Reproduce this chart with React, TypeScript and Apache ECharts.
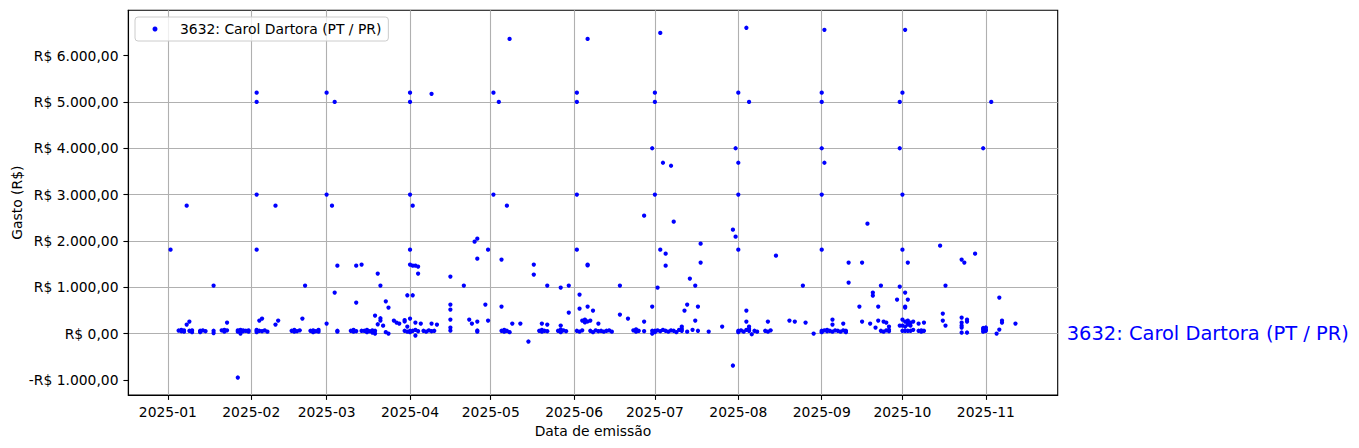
import { useEffect, useRef } from "react";
import * as echarts from "echarts";

const SERIES_NAME = "3632: Carol Dartora (PT / PR)";
const Y_TITLE = "Gasto (R$)";
const X_TITLE = "Data de emissão";
const YEAR = 2025;
const Y_TICKS = [-1000, 0, 1000, 2000, 3000, 4000, 5000, 6000];

// [day of month, value in R$]
const jan: [number, number][] = [
  [2, 1811], [8, 2760], [18, 1035], [27, -949],
  [5, 65], [6, 50], [6, 80], [7, 40], [7, 70], [8, 194], [9, 259], [9, 60],
  [10, 70], [10, 30], [13, 60], [13, 30], [14, 70], [15, 50], [18, 60], [18, 10],
  [21, 70], [22, 40], [22, 80], [23, 237], [23, 70], [27, 70], [27, 40],
  [28, 0], [28, 60], [28, 80], [29, 50], [29, 70], [30, 60], [31, 40], [31, 70],
];
const feb: [number, number][] = [
  [3, 5200], [3, 5000], [3, 3000], [3, 1811], [3, 60], [3, 30], [3, 80],
  [4, 280], [5, 323], [4, 60], [5, 50], [6, 70], [7, 40],
  [10, 2760], [10, 194], [11, 280],
  [16, 60], [17, 40], [17, 80], [18, 50], [19, 70], [20, 323], [21, 1035],
  [23, 60], [24, 30], [24, 70], [25, 50], [26, 80], [26, 40],
];
const mar: [number, number][] = [
  [1, 5200], [1, 3000], [1, 215], [3, 2760], [4, 5000], [4, 884],
  [5, 1466], [5, 60], [5, 40], [10, 60], [11, 40], [11, 80], [12, 50],
  [12, 1466], [12, 668], [14, 1488], [14, 60],
  [15, 60], [16, 30], [16, 80], [17, 50], [18, 70], [18, 20], [19, 60], [19, 0],
  [19, 388], [20, 1294], [21, 1035], [20, 200], [21, 330], [21, 280], [22, 170],
  [23, 696], [24, 560], [23, 30], [24, 0], [26, 280], [27, 237], [28, 215],
  [30, 290], [30, 260], [31, 826], [31, 150], [30, 60], [31, 40],
];
const apr: [number, number][] = [
  [1, 5200], [1, 5000], [1, 3000], [1, 1811], [1, 1488], [1, 323], [1, 60], [1, 30],
  [2, 2760], [2, 826], [2, 1466], [3, 1466], [4, 1445], [4, 1294],
  [3, 237], [3, -43], [2, 60], [3, 80], [4, 50], [5, 215],
  [6, 60], [7, 40], [8, 70], [9, 50], [10, 60], [9, 5175], [9, 215], [11, 194],
  [16, 1229], [16, 625], [16, 517], [16, 302], [16, 129], [16, 65],
  [21, 1035], [23, 302], [24, 215], [25, 1984], [26, 2048], [26, 1617],
  [26, 259], [26, 65], [26, 40], [29, 625], [30, 280], [30, 1811],
];
const may: [number, number][] = [
  [2, 5200], [2, 3000], [4, 5000], [5, 582], [5, 1596],
  [5, 60], [6, 40], [6, 80], [7, 60], [8, 30], [8, 6360], [7, 2760],
  [9, 215], [12, 215], [15, -172], [17, 1488], [17, 1272],
  [19, 60], [20, 40], [20, 80], [21, 60], [22, 50], [20, 215], [22, 194], [22, 1035],
  [27, 992], [27, 172], [27, 86], [26, 60], [27, 30], [28, 70], [29, 50],
  [30, 1035], [30, 453],
];
const jun: [number, number][] = [
  [2, 5200], [2, 5000], [2, 3000], [2, 1811], [3, 841], [3, 539],
  [6, 6360], [6, 582], [6, 1488], [6, 1470], [8, 496],
  [4, 280], [5, 300], [5, 240], [6, 260], [7, 280], [10, 215],
  [2, 60], [3, 40], [4, 70], [7, 60], [8, 30], [9, 70], [10, 50], [11, 60], [12, 40],
  [13, 60], [14, 70], [15, 40], [18, 1035], [18, 410], [21, 323],
  [23, 70], [24, 90], [24, 40], [25, 60], [27, 259], [27, 2544], [27, 50],
  [30, 582], [30, 4000], [30, 0], [30, 60],
];
const jul: [number, number][] = [
  [1, 5200], [1, 5000], [1, 3000], [2, 992], [3, 6490], [3, 1811], [4, 3687],
  [5, 1725], [5, 1466], [7, 3622], [8, 2415],
  [1, 60], [1, 30], [2, 70], [3, 50], [4, 80], [5, 60], [6, 40], [7, 70], [8, 60],
  [9, 30], [10, 80], [11, 60], [11, 100], [11, 151], [12, 496], [13, 625], [14, 1186],
  [13, 40], [15, 80], [16, 1035], [16, 280], [17, 582], [17, 60], [18, 1940], [18, 1531],
  [21, 43], [26, 151], [30, 2242], [31, 2091], [30, -690], [31, 4000],
];
const aug: [number, number][] = [
  [1, 5200], [1, 3000], [1, 3687], [1, 1811], [4, 6600], [4, 496], [4, 259], [5, 5000],
  [1, 60], [1, 30], [2, 70], [3, 40], [4, 80], [5, 60], [5, 100], [5, 151], [6, -15],
  [7, 60], [8, 40], [12, 259], [11, 60], [12, 40], [13, 70], [15, 1682],
  [20, 280], [22, 259], [25, 1035], [26, 237], [29, 0],
];
const sep: [number, number][] = [
  [1, 5200], [1, 5000], [1, 4000], [1, 3000], [1, 1811], [2, 6555], [2, 3687],
  [1, 60], [1, 30], [2, 70], [3, 50], [3, 80], [4, 60], [5, 40], [6, 70], [7, 60],
  [8, 40], [9, 70], [10, 60], [10, 30], [5, 302], [5, 194], [9, 215],
  [11, 1531], [11, 1100], [15, 582], [16, 1531], [16, 259], [18, 2372], [19, 215],
  [20, 884], [20, 819], [21, 129], [22, 582], [22, 280], [23, 1035], [24, 259],
  [25, 237], [26, 151], [23, 60], [24, 40], [25, 70], [26, 50], [26, 80],
  [29, 733], [30, 5000], [30, 4000], [30, 1013], [30, 172],
];
const oct: [number, number][] = [
  [1, 5200], [1, 3000], [1, 1811], [2, 6555], [2, 884], [2, 582], [2, 560],
  [3, 1531], [3, 733], [1, 302], [1, 172], [1, 60], [2, 259], [2, 150], [2, 60],
  [3, 280], [3, 215], [3, 194], [3, 60], [4, 237], [4, 172], [4, 60], [5, 259], [5, 80],
  [7, 215], [9, 237], [7, 60], [8, 40], [8, 70], [9, 60],
  [15, 1897], [16, 280], [16, 431], [17, 172], [17, 1035],
  [23, 1596], [23, 345], [23, 237], [23, 172], [23, 129], [23, 22], [24, 1531],
  [25, 302], [25, 259], [25, 22], [28, 1725], [31, 4000], [31, 86], [31, 40], [31, 120],
];
const nov: [number, number][] = [
  [1, 86], [1, 60], [1, 130], [3, 5000], [5, 0], [6, 776], [6, 86], [7, 280], [7, 237],
  [12, 215],
];

const MONTHS = [jan, feb, mar, apr, may, jun, jul, aug, sep, oct, nov];

const FONT = "DejaVu Sans";
const FS = 13.89;

function brl(v: number): string {
  const parts = Math.abs(v).toFixed(2).split(".");
  const intPart = parts[0].replace(/\B(?=(\d{3})+(?!\d))/g, ".");
  return (v < 0 ? "-" : "") + "R$ " + intPart + "," + parts[1];
}

export default function App() {
  const ref = useRef<HTMLDivElement>(null);
  useEffect(() => {
    if (!ref.current) return;
    const chart = echarts.init(ref.current, undefined, { renderer: "svg" });
    const data: [number, number][] = [];
    MONTHS.forEach((arr, m) => {
      arr.forEach(([d, v]) => data.push([Date.UTC(YEAR, m, d), v]));
    });
    const xs = data.map((p) => p[0]);
    const ys = data.map((p) => p[1]);
    const xMinD = Math.min(...xs), xMaxD = Math.max(...xs);
    const yMinD = Math.min(...ys), yMaxD = Math.max(...ys);
    const xPad = (xMaxD - xMinD) * 0.05;
    const yPad = (yMaxD - yMinD) * 0.05;
    const xMin = xMinD - xPad, xMax = xMaxD + xPad;
    const yMin = yMinD - yPad, yMax = yMaxD + yPad;
    const DAY = 86400000;

    chart.setOption({
      animation: false,
      useUTC: true,
      grid: {
        left: 128.3, top: 10.3, width: 929.4, height: 384.7,
        containLabel: false, outerBoundsMode: "none",
        show: true, borderColor: "#000", borderWidth: 1.1, backgroundColor: "#fff",
      },
      legend: {
        left: 135, top: 17,
        icon: "circle", itemWidth: 5, itemHeight: 5,
        padding: [5, 7, 5, 17.5],
        backgroundColor: "rgba(255,255,255,0.8)",
        borderColor: "#cccccc", borderWidth: 1, borderRadius: 3,
        textStyle: { fontFamily: FONT, fontSize: FS, color: "#000", padding: [0, 0, 0, 17.5] },
        data: [SERIES_NAME],
      },
      xAxis: {
        type: "time",
        min: xMin, max: xMax,
        splitNumber: 11,
        minInterval: 31 * DAY, maxInterval: 31 * DAY,
        name: X_TITLE, nameLocation: "middle", nameGap: 29, nameMoveOverlap: false,
        nameTextStyle: { fontFamily: FONT, fontSize: FS, color: "#000" },
        axisLine: { show: true, onZero: false, lineStyle: { color: "#000", width: 1.1 } },
        axisTick: { show: true, length: 4.9, lineStyle: { color: "#000", width: 1.1 } },
        axisLabel: {
          show: true, margin: 9.8, color: "#000", fontFamily: FONT, fontSize: FS,
          showMinLabel: false, showMaxLabel: false, hideOverlap: false,
          formatter: (v: number) => echarts.time.format(v, "{yyyy}-{MM}", true),
        },
        splitLine: { show: true, showMinLine: false, showMaxLine: false, lineStyle: { color: "#b0b0b0", width: 1.1 } },
      },
      yAxis: {
        type: "value",
        min: yMin, max: yMax,
        splitNumber: 8, minInterval: 1000, maxInterval: 1000,
        name: Y_TITLE, nameLocation: "middle", nameGap: 104, nameRotate: 90, nameMoveOverlap: false,
        nameTextStyle: { fontFamily: FONT, fontSize: FS, color: "#000" },
        axisLine: { show: true, onZero: false, lineStyle: { color: "#000", width: 1.1 } },
        axisTick: { show: true, length: 4.9, lineStyle: { color: "#000", width: 1.1 }, customValues: Y_TICKS },
        axisLabel: {
          show: true, margin: 9.8, color: "#000", fontFamily: FONT, fontSize: FS,
          customValues: Y_TICKS, formatter: (v: number) => brl(v),
        },
        splitLine: { show: true, showMinLine: false, showMaxLine: false, lineStyle: { color: "#b0b0b0", width: 1.1 } },
      },
      series: [
        {
          type: "scatter",
          name: SERIES_NAME,
          data,
          symbol: "circle",
          symbolSize: 4.3,
          itemStyle: { color: "#0000ff", opacity: 1 },
          z: 3,
        },
      ],
    });

    const px = chart.convertToPixel({ xAxisIndex: 0 }, xMax) as number;
    const py = chart.convertToPixel({ yAxisIndex: 0 }, 0) as number;
    chart.setOption({
      graphic: [
        {
          type: "text",
          x: px + 9,
          y: py,
          style: {
            text: SERIES_NAME,
            fill: "#0000ff",
            font: `19.44px "${FONT}"`,
            verticalAlign: "middle",
            align: "left",
          },
        },
      ],
    });

    return () => chart.dispose();
  }, []);
  return (
    <div
      ref={ref}
      style={{ position: "fixed", left: 0, top: 0, width: 1359, height: 448, background: "#fff" }}
    />
  );
}
